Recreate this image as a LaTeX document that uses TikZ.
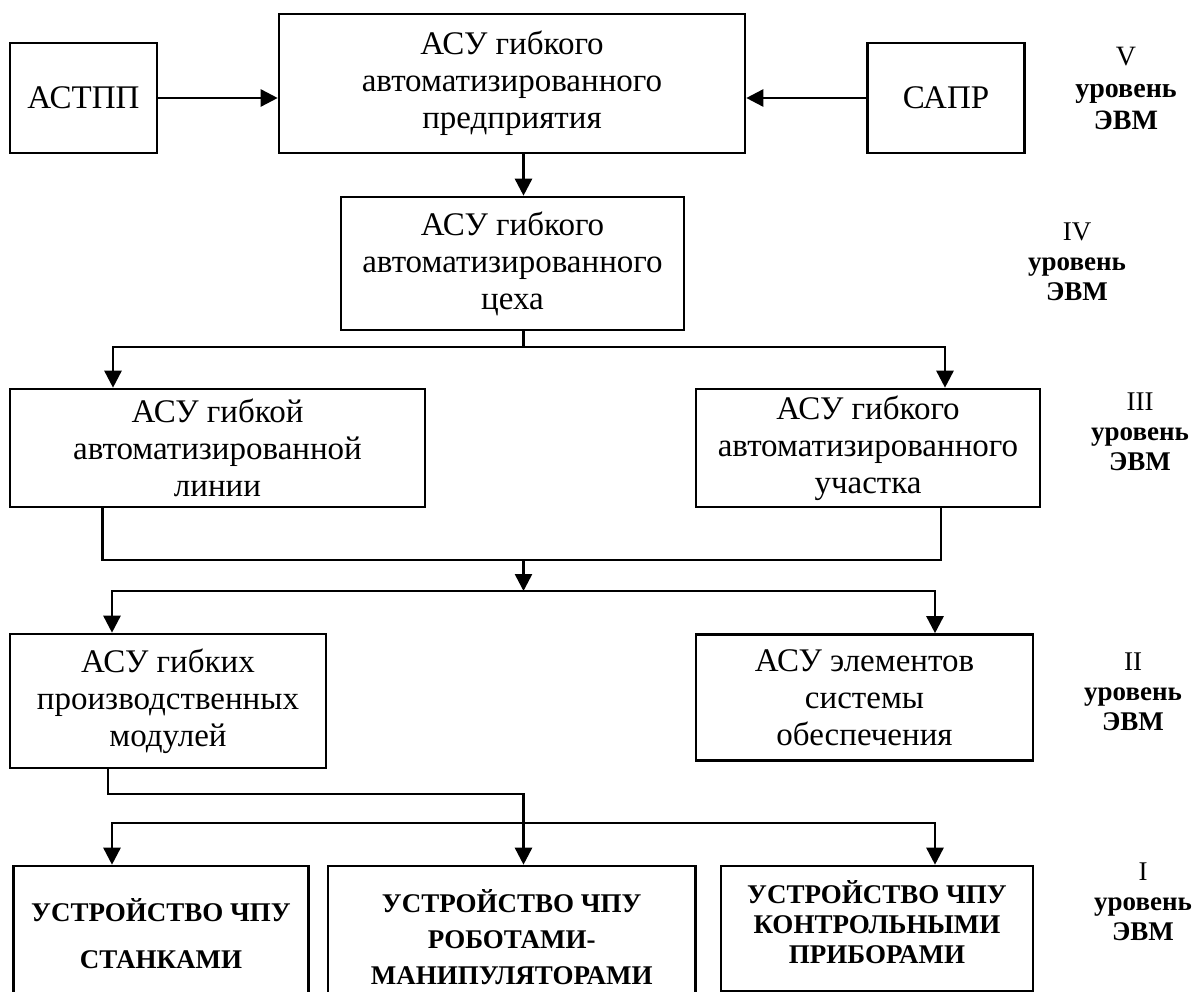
\documentclass[tikz,border=0pt]{standalone}
\usepackage{fontspec}
\setmainfont{Liberation Serif}
\usetikzlibrary{arrows.meta}
\begin{document}
\begin{tikzpicture}[x=1pt,y=-1pt,
  box/.style={draw, line width=2.6pt, align=center, inner sep=0pt, font=\fontsize{33}{37}\selectfont},
  bbox/.style={draw, line width=2.6pt, align=center, inner sep=0pt},
  con/.style={line width=2.6pt},
  tip/.style={Triangle[length=17pt,width=17pt]},
  arr/.style={con, -{Triangle[length=17pt,width=17pt]}},
  arr2/.style={con, {Triangle[length=17pt,width=17pt]}-{Triangle[length=17pt,width=17pt]}},
  lvl/.style={align=center, font=\fontsize{28}{32}\selectfont}]
\useasboundingbox (0,0) rectangle (1195,992);
\clip (0,0) rectangle (1195,992);

% level V
\node[box, minimum width=147, minimum height=110] (astpp) at (83.5,98) {АСТПП};
\node[box, minimum width=466, minimum height=139] (ent) at (512,83.5) {АСУ гибкого\\автоматизированного\\предприятия};
\node[box, minimum width=157, minimum height=110] (sapr) at (946,98) {САПР};
% level IV
\node[box, minimum width=343, minimum height=133] (shop) at (512.5,263.5) {АСУ гибкого\\автоматизированного\\цеха};
% level III
\node[box, minimum width=415, minimum height=118] (line) at (217.5,448) {АСУ гибкой\\автоматизированной\\линии};
\node[box, minimum width=344, minimum height=118] (sect) at (868,448) {АСУ гибкого\\автоматизированного\\участка};
% level II
\node[box, minimum width=316, minimum height=134] (mod) at (168,701) {АСУ гибких\\производственных\\модулей};
\node[box, minimum width=337, minimum height=126] (supp) at (864.5,697.5) {АСУ элементов\\системы\\обеспечения};
% level I
\node[bbox, minimum width=295, minimum height=135, font=\fontsize{27}{47}\selectfont\bfseries] (mach) at (161,933.5) {УСТРОЙСТВО ЧПУ\\СТАНКАМИ};
\node[bbox, minimum width=367.5, minimum height=143, font=\fontsize{27}{36}\selectfont\bfseries] (rob) at (511.75,937.5) {УСТРОЙСТВО ЧПУ\\РОБОТАМИ-\\МАНИПУЛЯТОРАМИ};
\node[bbox, minimum width=312, minimum height=125, text depth=13pt, font=\fontsize{27}{30}\selectfont\bfseries] (inst) at (877,928.5) {УСТРОЙСТВО ЧПУ\\КОНТРОЛЬНЫМИ\\ПРИБОРАМИ};

% level labels
\node[lvl] (lv5) at (1126,88) {V\\\textbf{уровень}\\\textbf{ЭВМ}};
\node[lvl, font=\fontsize{27}{30}\selectfont] (lv4) at (1077,262) {IV\\\textbf{уровень}\\\textbf{ЭВМ}};
\node[lvl, font=\fontsize{27}{30}\selectfont] (lv3) at (1140,432) {III\\\textbf{уровень}\\\textbf{ЭВМ}};
\node[lvl, font=\fontsize{27}{30}\selectfont] (lv2) at (1133,692) {II\\\textbf{уровень}\\\textbf{ЭВМ}};
\node[lvl, font=\fontsize{27}{30}\selectfont] (lv1) at (1143,902) {I\\\textbf{уровень}\\\textbf{ЭВМ}};

% junction coordinates
\coordinate (c1) at (523.5,0);
\coordinate (a1) at (113,347);
\coordinate (a2) at (945,347);
\coordinate (b1) at (102.6,560);
\coordinate (b2) at (941,560);
\coordinate (d1) at (112,591);
\coordinate (d2) at (935,591);
\coordinate (e1) at (108,794);
\coordinate (f1) at (112,823);
\coordinate (f2) at (935,823);

% connectors
\draw[arr] (astpp.east) -- (astpp.east -| ent.west);
\draw[arr] (sapr.west) -- (sapr.west -| ent.east);
\draw[arr] (c1 |- ent.south) -- (c1 |- shop.north);
\draw[con] (c1 |- shop.south) -- (c1 |- a1);
\draw[arr2] (a1 |- line.north) -- (a1) -- (a2) -- (a2 |- sect.north);
\draw[con] (b1 |- line.south) -- (b1) -- (b2) -- (b2 |- sect.south);
\draw[arr] (c1 |- b1) -- (c1 |- d1);
\draw[arr2] (d1 |- mod.north) -- (d1) -- (d2) -- (d2 |- supp.north);
\draw[arr] (e1 |- mod.south) -- (e1) -- (e1 -| c1) -- (c1 |- rob.north);
\draw[arr2] (f1 |- mach.north) -- (f1) -- (f2) -- (f2 |- inst.north);
\end{tikzpicture}
\end{document}
